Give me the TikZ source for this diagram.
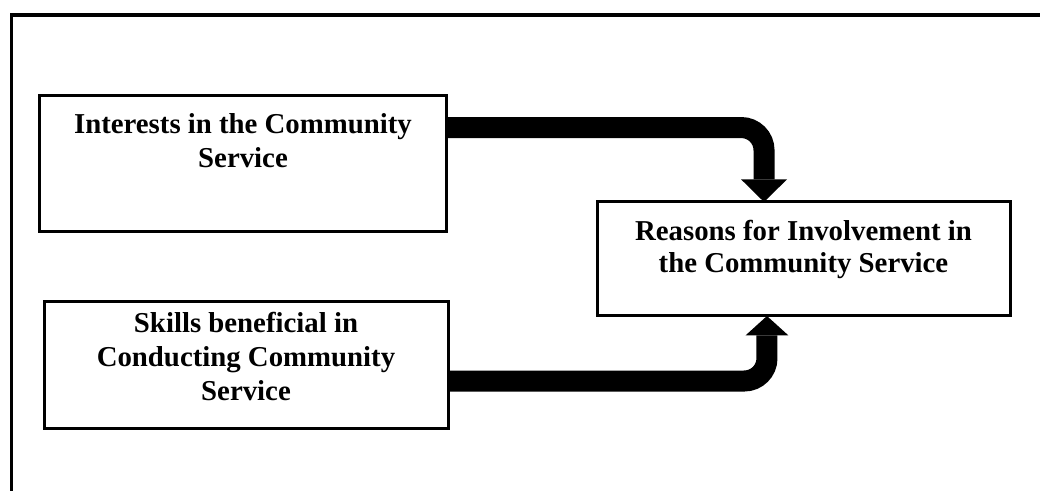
\documentclass[tikz,border=0pt]{standalone}
\usepackage{fontspec}
\setmainfont{Liberation Serif}
\usetikzlibrary{arrows.meta,positioning,calc}
\tikzset{
  factor/.style={draw=black,line width=2.25pt,inner sep=0pt,outer sep=0pt,
                 font=\bfseries\fontsize{21.6}{25.5}\selectfont},
  flowarr/.style={line width=15.75pt,rounded corners=17pt,
                  -{Triangle[width=34.5pt,length=17pt,line width=0pt]}},
  frameline/.style={line width=2.5pt}
}
% fixed-size box, text hung from the top
\newcommand{\factortext}[4]{\parbox[c][#1][t]{#2}{\centering\vspace*{#3}#4}}

\begin{document}
\begin{tikzpicture}[x=0.75pt,y=-0.75pt]
  \useasboundingbox (0,0) rectangle (1040,491);
  \draw[frameline] (11.7,491) -- (11.7,15) -- (1040,15);

  \node[factor] (interests) at (243,163.6)
    {\factortext{102pt}{305.5pt}{13.4pt}{Interests in the Community\\Service}};
  \node[factor] (skills) at (246,365.2)
    {\factortext{95.6pt}{303pt}{8.2pt}{Skills beneficial in\\Conducting Community\\Service}};
  \node[factor,font=\bfseries\fontsize{21.6}{23.6}\selectfont] (reasons) at (803.5,259)
    {\factortext{85.5pt}{309.75pt}{13.8pt}{Reasons for Involvement in\\the Community Service}};

  \draw[flowarr] ($(interests.north east)!0.235!(interests.south east)$)
    -| ([xshift=-29.6pt]reasons.north);
  \draw[flowarr,-{Triangle[width=32pt,length=14.5pt,line width=0pt]}]
    ($(skills.north east)!0.624!(skills.south east)$)
    -| ([xshift=-27.4pt]reasons.south);
\end{tikzpicture}
\end{document}
